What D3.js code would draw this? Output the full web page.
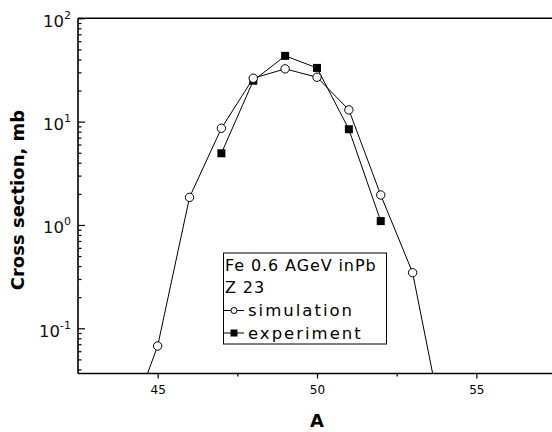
<!DOCTYPE html>
<html><head><meta charset="utf-8">
<script src="https://cdn.jsdelivr.net/npm/d3@7"></script>
<style>body{margin:0;background:#fff}svg{display:block}</style>
</head><body>
<svg id="c" width="552" height="432"></svg>
<script>
const simA = [44, 45, 46, 47, 48, 49, 50, 51, 52, 53, 54];
const simV = [0.0098, 0.0674, 1.85, 8.63, 26.3, 32.4, 26.9, 13.0, 1.95, 0.345, 0.0097];
const expA = [47, 48, 49, 50, 51, 52];
const expV = [4.94, 24.9, 43.3, 33.1, 8.44, 1.09];
const xTicks = [45, 50, 55];
const xMinor = [47.5, 52.5];
const yDecades = [-1, 0, 1, 2];
const legendTitle = ["Fe 0.6 AGeV inPb", "Z 23"];
const legendNames = ["simulation", "experiment"];

const svg = d3.select("#c");
const L = 78, T = 18.3, B = 373.5;
const x = d3.scaleLinear().domain([42.5, 57.5]).range([L, 556]);
const y = d3.scaleLog().domain([0.0365, 100]).range([B, T]);

svg.append("defs").append("clipPath").attr("id", "clip")
  .append("rect").attr("x", L).attr("y", T).attr("width", 552 - L).attr("height", B - T);

// frame
svg.append("line").attr("x1", L).attr("x2", 552).attr("y1", T).attr("y2", T)
  .attr("stroke", "#000").attr("stroke-width", 1.6);

// x axis
const xa = svg.append("g").attr("transform", `translate(0,${B})`)
  .call(d3.axisBottom(x).tickValues(xTicks).tickSize(5).tickFormat(d3.format("d")));
xa.select(".domain").remove();
xa.selectAll("text").attr("font-family", "DejaVu Sans").attr("font-size", 12).attr("dy", "1.0em");
xa.selectAll("line").attr("stroke-width", 1.2);
svg.append("g").attr("transform", `translate(0,${B})`)
  .call(d3.axisBottom(x).tickValues(xMinor).tickSize(3).tickFormat(""))
  .call(g => g.select(".domain").remove())
  .selectAll("line").attr("stroke-width", 1.2);
svg.append("line").attr("x1", L).attr("x2", 552).attr("y1", B).attr("y2", B)
  .attr("stroke", "#000").attr("stroke-width", 1.6);

// y axis
const majors = yDecades.map(d => Math.pow(10, d));
const minors = [];
[-2, -1, 0, 1].forEach(d => { for (let k = 2; k <= 9; k++) { const v = k * Math.pow(10, d); if (v >= 0.0365 && v <= 100) minors.push(v); } });
const ya = svg.append("g").attr("transform", `translate(${L},0)`)
  .call(d3.axisRight(y).tickValues(majors).tickSize(7).tickFormat(""));
ya.select(".domain").remove();
ya.selectAll("line").attr("stroke-width", 1.2);
svg.append("g").attr("transform", `translate(${L},0)`)
  .call(d3.axisRight(y).tickValues(minors).tickSize(3.5).tickFormat(""))
  .call(g => g.select(".domain").remove())
  .selectAll("line").attr("stroke-width", 1.2);
svg.append("line").attr("x1", L).attr("x2", L).attr("y1", T).attr("y2", B)
  .attr("stroke", "#000").attr("stroke-width", 1.6);

const yl = svg.append("g");
yDecades.forEach(d => {
  const t = yl.append("text").attr("x", 71).attr("y", y(Math.pow(10, d)) + 8.5)
    .attr("text-anchor", "end").attr("font-family", "DejaVu Sans").attr("fill", "#111");
  t.append("tspan").attr("font-size", 16.5).text("10");
  t.append("tspan").attr("font-size", 11).attr("dy", -8).text(String(d));
});

// titles
svg.append("text").attr("transform", `translate(23.5,200) rotate(-90)`)
  .attr("text-anchor", "middle").attr("font-family", "DejaVu Sans").attr("font-weight", "bold")
  .attr("font-size", 18).text("Cross section, mb");
svg.append("text").attr("x", x(50)).attr("y", 427)
  .attr("text-anchor", "middle").attr("font-family", "DejaVu Sans").attr("font-weight", "bold")
  .attr("font-size", 18).text("A");

// data
const plot = svg.append("g").attr("clip-path", "url(#clip)");
const line = d3.line().x(d => x(d[0])).y(d => y(d[1]));
const sim = simA.map((a, i) => [a, simV[i]]);
const exp = expA.map((a, i) => [a, expV[i]]);
plot.append("path").datum(sim).attr("d", line).attr("fill", "none").attr("stroke", "#000").attr("stroke-width", 1);
plot.append("path").datum(exp).attr("d", line).attr("fill", "none").attr("stroke", "#000").attr("stroke-width", 1);
plot.selectAll("rect.e").data(exp).join("rect").attr("class", "e")
  .attr("x", d => x(d[0]) - 4).attr("y", d => y(d[1]) - 4).attr("width", 8).attr("height", 8).attr("fill", "#000");
plot.selectAll("circle.s").data(sim).join("circle").attr("class", "s")
  .attr("cx", d => x(d[0])).attr("cy", d => y(d[1])).attr("r", 4.2)
  .attr("fill", "#fff").attr("stroke", "#000").attr("stroke-width", 1);

// legend
const lg = svg.append("g");
lg.append("rect").attr("x", 223.5).attr("y", 253).attr("width", 163).attr("height", 91)
  .attr("fill", "#fff").attr("stroke", "#000").attr("stroke-width", 1);
legendTitle.forEach((t, i) => {
  lg.append("text").attr("x", 225).attr("y", 271 + i * 22).attr("font-family", "DejaVu Sans")
    .attr("font-size", 16).attr("letter-spacing", 0.9).text(t);
});
legendNames.forEach((t, i) => {
  const cy = 310.5 + i * 22.5;
  lg.append("line").attr("x1", 224).attr("x2", 244).attr("y1", cy).attr("y2", cy).attr("stroke", "#000");
  if (i === 0) lg.append("circle").attr("cx", 234).attr("cy", cy).attr("r", 3).attr("fill", "#fff").attr("stroke", "#000");
  else lg.append("rect").attr("x", 230.5).attr("y", cy - 3.5).attr("width", 7).attr("height", 7).attr("fill", "#000");
  lg.append("text").attr("x", 248).attr("y", cy + 5.5).attr("font-family", "DejaVu Sans")
    .attr("font-size", 16.5).attr("letter-spacing", 2.0).text(t);
});
</script>
</body></html>
